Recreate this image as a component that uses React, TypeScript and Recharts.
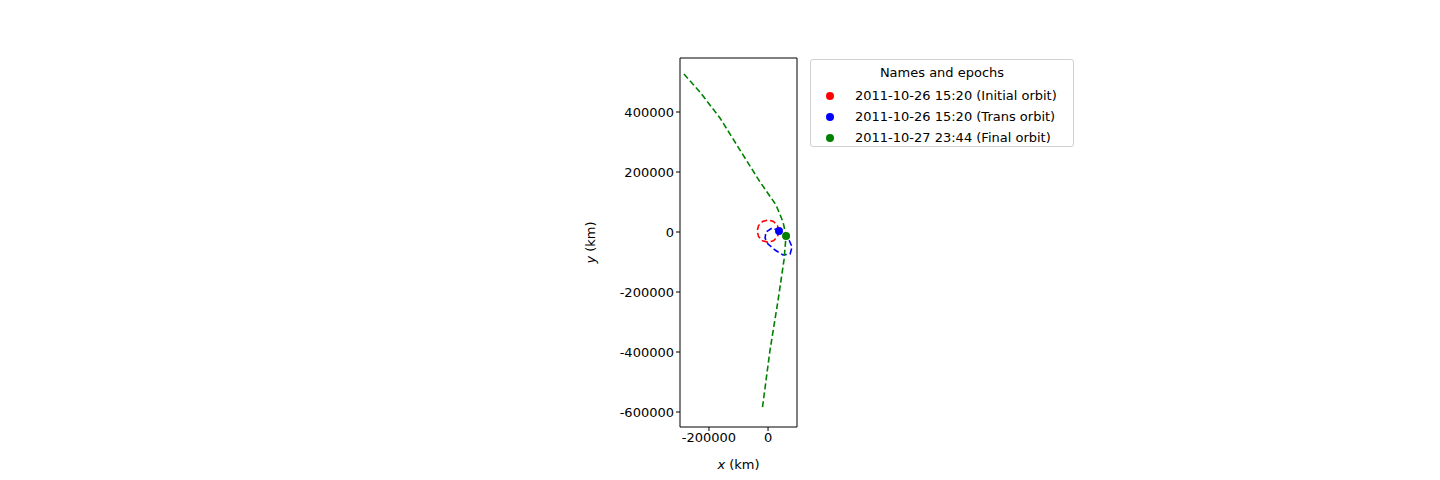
import { ScatterChart, Scatter, XAxis, YAxis } from "recharts";

// orbit traces in km
const initialOrbit = [
  [37000, 3000], [32000, 21500], [18500, 35000], [0, 40000], [-18500, 35000],
  [-32000, 21500], [-37000, 3000], [-32000, -15500], [-18500, -29000],
  [0, -34000], [18500, -29000], [32000, -15500], [37000, 3000],
].map(([x, y]) => ({ x, y }));

const transOrbit = [
  [40700, 3300], [13600, 13300], [-6800, 0], [-10200, -20000], [0, -40000],
  [23700, -60000], [50800, -76700], [74600, -73300], [81400, -50000],
  [71200, -26700], [54200, -6700], [40700, 3300],
].map(([x, y]) => ({ x, y }));

const finalOrbit = [
  [-284700, 526700], [-230500, 466700], [-162700, 380000], [-94900, 273000],
  [-27100, 166700], [27000, 90000], [50800, 33000], [61000, -13000],
  [54000, -93000], [34000, -227000], [6800, -393000], [-20000, -593000],
].map(([x, y]) => ({ x, y }));

const markers = [
  { name: "2011-10-26 15:20 (Initial orbit)", color: "#ff0000", point: { x: 0, y: 3000 }, show: false },
  { name: "2011-10-26 15:20 (Trans orbit)", color: "#0000ff", point: { x: 37000, y: 3000 }, show: true },
  { name: "2011-10-27 23:44 (Final orbit)", color: "#008000", point: { x: 61000, y: -13000 }, show: true },
];

const xTicks = [-200000, 0];
const yTicks = [-600000, -400000, -200000, 0, 200000, 400000];

const font = "DejaVu Sans, sans-serif";
const noShape = () => null;
const dot = (color: string) => (p: any) => <circle cx={p.cx} cy={p.cy} r={4} fill={color} />;

const XLabel = ({ viewBox }: any) => (
  <text x={viewBox.x + viewBox.width / 2} y={viewBox.y + 42} textAnchor="middle" fontSize={13} fontFamily={font}>
    <tspan fontStyle="italic">x</tspan> (km)
  </text>
);
const YLabel = ({ viewBox }: any) => {
  const cy = viewBox.y + viewBox.height / 2;
  return (
    <text x={0} y={0} transform={`translate(595,${cy}) rotate(-90)`} textAnchor="middle" fontSize={13} fontFamily={font}>
      <tspan fontStyle="italic">y</tspan> (km)
    </text>
  );
};

export default function App() {
  return (
    <div style={{ position: "relative", width: 1440, height: 480, margin: -8, fontFamily: font }}>
      <ScatterChart width={1440} height={480} margin={{ top: 58, right: 643, left: 610, bottom: 23 }}>
        <XAxis type="number" dataKey="x" domain={[-298000, 98000]} ticks={xTicks} allowDataOverflow
          tick={{ fontSize: 13, fill: "#000", fontFamily: font }} stroke="#000" tickSize={4} height={30}
          label={<XLabel />} />
        <YAxis type="number" dataKey="y" domain={[-650000, 580000]} ticks={yTicks} allowDataOverflow
          tick={{ fontSize: 13, fill: "#000", fontFamily: font }} stroke="#000" tickSize={4} width={70}
          label={<YLabel />} />
        <Scatter data={initialOrbit} shape={noShape} line={{ stroke: "#ff0000", strokeWidth: 1.6, strokeDasharray: "6 3" }} isAnimationActive={false} />
        <Scatter data={transOrbit} shape={noShape} line={{ stroke: "#0000ff", strokeWidth: 1.6, strokeDasharray: "6 3" }} isAnimationActive={false} />
        <Scatter data={finalOrbit} shape={noShape} line={{ stroke: "#008000", strokeWidth: 1.6, strokeDasharray: "6 3" }} isAnimationActive={false} />
        {markers.filter((m) => m.show).map((m) => (
          <Scatter key={m.name} data={[m.point]} shape={dot(m.color)} isAnimationActive={false} />
        ))}
        <line x1={797} y1={58} x2={797} y2={427} stroke="#000" />
        <line x1={680} y1={58} x2={797} y2={58} stroke="#000" />
      </ScatterChart>
      <div style={{ position: "absolute", left: 810, top: 59, width: 264, height: 88, border: "1px solid #d0d0d0",
        borderRadius: 3, boxSizing: "border-box", fontSize: 13, background: "#fff" }}>
        <div style={{ textAlign: "center", marginTop: 5, height: 20 }}>Names and epochs</div>
        {markers.map((m) => (
          <div key={m.name} style={{ display: "flex", alignItems: "center", height: 21, paddingLeft: 15 }}>
            <span style={{ width: 8, height: 8, borderRadius: 4, background: m.color, marginRight: 21 }} />
            {m.name}
          </div>
        ))}
      </div>
    </div>
  );
}
